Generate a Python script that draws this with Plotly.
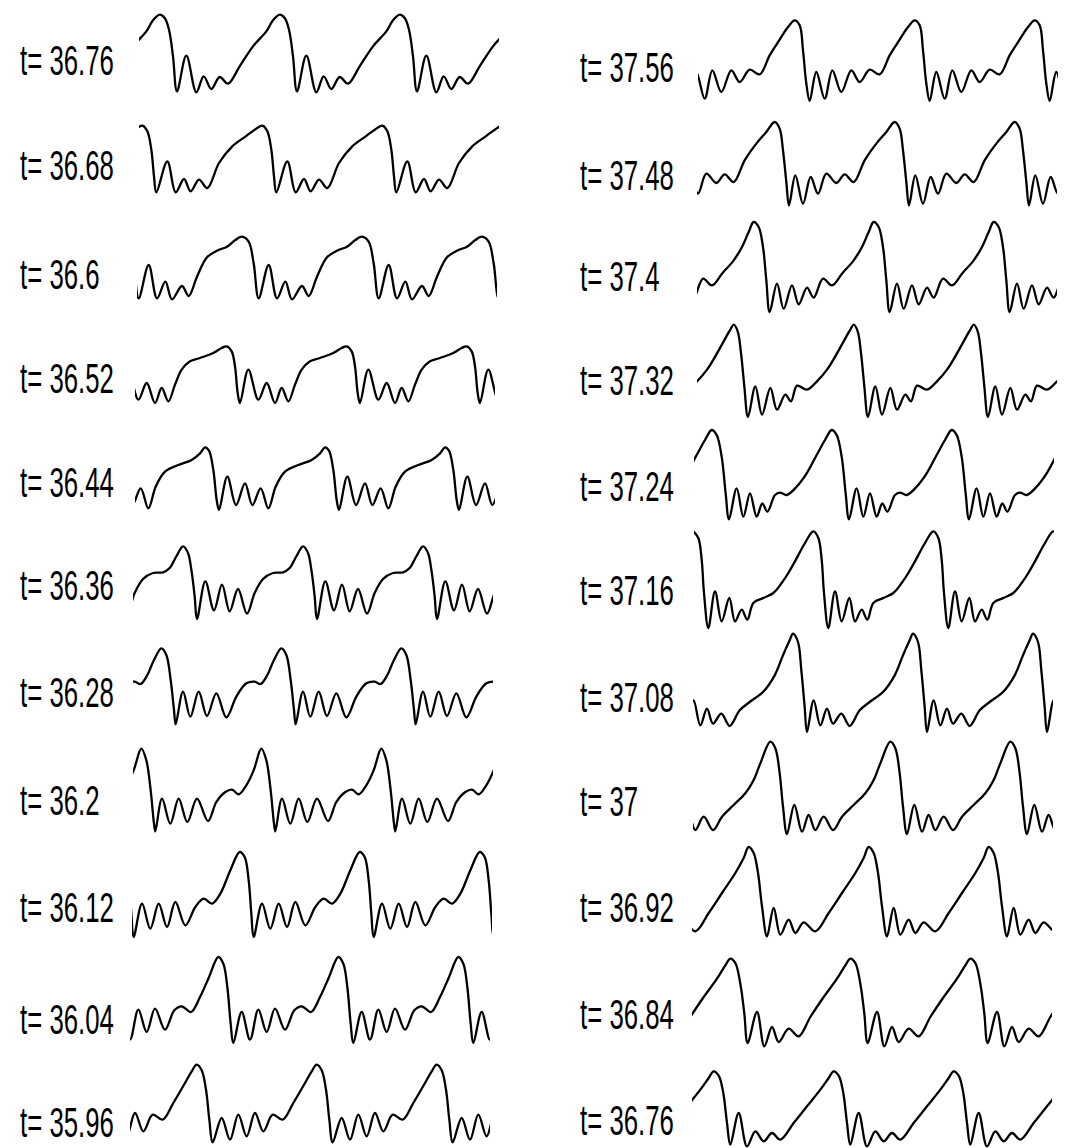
import plotly.graph_objects as go

# ---------------- data ----------------
# Each profile: one period of the wave, as (phase from the crest in degrees, amplitude)
LEFT_TIMES = ["36.76", "36.68", "36.6", "36.52", "36.44", "36.36", "36.28", "36.2", "36.12", "36.04", "35.96"]
RIGHT_TIMES = ["37.56", "37.48", "37.4", "37.32", "37.24", "37.16", "37.08", "37", "36.92", "36.84", "36.76"]

# crest position (degrees) measured from the left edge of each panel
LEFT_CREST = [62, 10, 315, 275, 210, 150, 85, 25, 323, 265, 200]
RIGHT_CREST = [290, 233, 170, 110, 53, 358, 300, 232, 170, 115, 65]

P_3676 = [(0, 235), (15, 225), (28, 190), (40, 110), (52, 5), (80, 112), (110, 2), (132, 50), (155, 12), (180, 48), (205, 28), (240, 80), (280, 140), (320, 185), (340, 218)]
P_3668 = [(0, 202), (15, 185), (27, 130), (35, 50), (42, 2), (75, 95), (100, 2), (125, 42), (145, 5), (170, 40), (195, 15), (230, 90), (270, 140), (310, 170), (345, 195)]
P_3660 = [(0, 190), (20, 175), (35, 110), (50, 5), (80, 105), (105, 5), (130, 55), (150, 2), (180, 42), (200, 12), (225, 70), (255, 128), (285, 148), (315, 160), (340, 180)]
P_3652 = [(0, 170), (15, 155), (25, 110), (33, 30), (40, 0), (65, 100), (95, 10), (120, 60), (145, 0), (165, 45), (185, 5), (205, 55), (225, 100), (250, 125), (280, 135), (320, 150), (345, 165)]
P_3644 = [(0, 188), (12, 178), (25, 120), (35, 30), (42, 0), (67, 100), (93, 15), (120, 80), (142, 15), (167, 65), (190, 5), (212, 70), (240, 115), (280, 135), (320, 150), (345, 170)]
P_3636 = [(0, 218), (15, 198), (25, 148), (35, 68), (42, 0), (67, 113), (93, 26), (117, 103), (140, 23), (165, 90), (192, 16), (215, 78), (240, 120), (270, 138), (300, 140), (320, 153), (340, 188)]
P_3628 = [(0, 230), (15, 210), (28, 135), (38, 45), (43, 2), (65, 100), (87, 25), (112, 100), (137, 27), (165, 95), (195, 23), (225, 85), (255, 125), (280, 130), (298, 123), (318, 150), (338, 195)]
P_3620 = [(0, 250), (15, 215), (28, 125), (38, 25), (42, 2), (62, 100), (87, 25), (112, 100), (138, 30), (167, 100), (200, 33), (225, 90), (252, 120), (272, 127), (292, 113), (315, 140), (337, 185)]
P_3612 = [(0, 255), (15, 240), (27, 170), (35, 70), (42, 0), (67, 100), (92, 25), (117, 100), (142, 30), (167, 105), (197, 35), (227, 90), (252, 115), (277, 100), (302, 130), (332, 200)]
P_3604 = [(0, 258), (15, 238), (27, 168), (37, 58), (45, 0), (70, 93), (95, 10), (120, 100), (145, 33), (170, 103), (200, 40), (228, 98), (250, 110), (278, 93), (305, 138), (330, 193)]
P_3596 = [(0, 235), (15, 218), (28, 160), (38, 70), (48, 2), (75, 75), (100, 10), (125, 85), (150, 20), (175, 90), (200, 35), (228, 85), (258, 70), (290, 120), (325, 180), (345, 215)]

P_3756 = [(0, 245), (15, 230), (25, 155), (35, 55), (45, 3), (65, 90), (90, 10), (113, 95), (140, 30), (170, 95), (195, 60), (225, 97), (255, 83), (285, 140), (315, 187), (340, 225)]
P_3748 = [(0, 255), (15, 235), (25, 170), (35, 75), (43, 5), (62, 95), (85, 10), (108, 90), (130, 40), (155, 100), (185, 72), (210, 98), (237, 75), (270, 140), (305, 190), (335, 225)]
P_3740 = [(0, 273), (15, 258), (28, 198), (38, 98), (48, 3), (70, 88), (90, 13), (115, 83), (135, 26), (160, 76), (180, 46), (208, 103), (235, 83), (265, 118), (300, 158), (325, 198), (345, 243)]
P_3732 = [(0, 280), (12, 260), (22, 195), (32, 95), (43, 3), (65, 95), (85, 10), (110, 90), (130, 25), (155, 70), (172, 50), (190, 97), (220, 85), (250, 110), (280, 145), (305, 185), (330, 230), (350, 265)]
P_3724 = [(0, 270), (15, 255), (30, 190), (42, 80), (52, 2), (75, 95), (95, 10), (115, 80), (135, 10), (152, 50), (167, 25), (190, 75), (205, 82), (225, 75), (255, 100), (285, 140), (315, 195), (340, 240)]
P_3716 = [(0, 293), (15, 273), (25, 208), (32, 108), (45, 3), (65, 113), (85, 23), (108, 93), (125, 23), (145, 58), (162, 28), (180, 78), (210, 93), (240, 108), (265, 138), (285, 168), (305, 203), (335, 258)]
P_3708 = [(0, 298), (15, 273), (25, 188), (35, 78), (42, 3), (62, 98), (82, 23), (102, 73), (120, 28), (145, 58), (170, 21), (200, 68), (230, 93), (270, 123), (305, 173), (330, 233), (350, 278)]
P_3700 = [(0, 280), (15, 260), (28, 185), (38, 85), (50, 3), (72, 90), (95, 10), (115, 60), (135, 15), (160, 55), (188, 15), (215, 55), (250, 90), (285, 125), (310, 165), (330, 215)]
P_3692 = [(0, 273), (15, 255), (28, 195), (40, 95), (55, 5), (75, 90), (95, 10), (120, 55), (140, 15), (165, 47), (200, 20), (240, 75), (280, 135), (320, 195), (345, 240)]
P_3684 = [(0, 265), (15, 252), (30, 190), (42, 100), (52, 12), (80, 105), (102, 2), (125, 60), (145, 15), (175, 55), (205, 32), (240, 90), (280, 150), (320, 205), (345, 245)]
P_3676b = [(0, 227), (15, 214), (28, 167), (40, 72), (50, 7), (75, 102), (100, 2), (125, 47), (150, 17), (175, 42), (200, 22), (240, 72), (280, 122), (320, 172), (345, 207)]

LEFT_PROFILES = [P_3676, P_3668, P_3660, P_3652, P_3644, P_3636, P_3628, P_3620, P_3612, P_3604, P_3596]
RIGHT_PROFILES = [P_3756, P_3748, P_3740, P_3732, P_3724, P_3716, P_3708, P_3700, P_3692, P_3684, P_3676b]

PERIODS_SHOWN = 3

# ---------------- layout (pixels) ----------------
W, H = 1085, 1148
PERIOD_PX = 120
LEFT_X0 = [139, 139, 137, 135, 135, 133, 133, 133, 132, 130, 130]
RIGHT_X0 = [698, 697, 697, 697, 694, 694, 693, 693, 692, 692, 692]
LEFT_BOTTOM = [93, 193, 300, 403, 510, 619, 725, 832, 937, 1043, 1143]
RIGHT_BOTTOM = [102, 207, 313, 418, 520, 629, 733, 835, 938, 1047, 1147]
LEFT_LABEL_Y = [60, 165, 274, 378, 482, 585, 692, 800, 907, 1019, 1122]
RIGHT_LABEL_Y = [67, 175, 276, 380, 486, 590, 697, 801, 907, 1014, 1120]
LEFT_LABEL_X = 19
RIGHT_LABEL_X = 579
UNITS_PER_PX = 3.0
LABEL_FONT = dict(family="Liberation Sans, Arial, sans-serif", size=43, color="black")
LABEL_SQUEEZE = "0.6"   # the printed labels use a strongly condensed face

fig = go.Figure()
layout = {}
annotations = []

panels = []
for i in range(11):
    panels.append((LEFT_TIMES[i], LEFT_PROFILES[i], LEFT_CREST[i], LEFT_X0[i], LEFT_BOTTOM[i], LEFT_LABEL_Y[i], LEFT_LABEL_X))
for i in range(11):
    panels.append((RIGHT_TIMES[i], RIGHT_PROFILES[i], RIGHT_CREST[i], RIGHT_X0[i], RIGHT_BOTTOM[i], RIGHT_LABEL_Y[i], RIGHT_LABEL_X))

for n, (label, prof, crest, x0, bottom, ly, lx) in enumerate(panels, start=1):
    xs, ys = [], []
    for k in range(-1, PERIODS_SHOWN + 1):
        for d, a in prof:
            xs.append(crest + d + 360 * k)
            ys.append(a)
    xa = "x" if n == 1 else f"x{n}"
    ya = "y" if n == 1 else f"y{n}"
    fig.add_trace(go.Scatter(x=xs, y=ys, xaxis=xa, yaxis=ya, mode="lines",
                             line=dict(color="black", width=2.3, shape="spline", smoothing=1.0),
                             hoverinfo="skip", showlegend=False))
    # axes: 3 data units per screen pixel vertically, 3 periods across 360 px
    xd0 = x0 / W
    xd1 = (x0 + PERIOD_PX * PERIODS_SHOWN) / W
    top_px = max(bottom - 330 / UNITS_PER_PX, 0)
    low_px = min(bottom + 5, H)
    hi = (bottom - top_px) * UNITS_PER_PX
    lo = -(low_px - bottom) * UNITS_PER_PX
    yd0 = (H - low_px) / H
    yd1 = (H - top_px) / H
    key = "" if n == 1 else str(n)
    layout["xaxis" + key] = dict(domain=[xd0, xd1], range=[0, 360 * PERIODS_SHOWN], visible=False,
                                 anchor=ya, fixedrange=True)
    layout["yaxis" + key] = dict(domain=[yd0, yd1], range=[lo, hi], visible=False,
                                 anchor=xa, fixedrange=True)
    annotations.append(dict(text="t= " + label, xref="paper", yref="paper",
                            x=lx / W, y=(H - ly) / H, xanchor="left", yanchor="middle",
                            showarrow=False, font=LABEL_FONT, borderpad=0))

fig.update_layout(width=W, height=H, margin=dict(l=0, r=0, t=0, b=0),
                  paper_bgcolor="white", plot_bgcolor="rgba(0,0,0,0)",
                  annotations=annotations, showlegend=False, **layout)

POST = ("var s=document.createElement('style');"
        "s.textContent='body{margin:0;}"
        ".annotation-text{transform-box:fill-box;transform-origin:0% 50%;transform:scaleX(" + LABEL_SQUEEZE + ");}';"
        "document.head.appendChild(s);")

fig.write_html("out.html", post_script=POST, config={"displayModeBar": False})
